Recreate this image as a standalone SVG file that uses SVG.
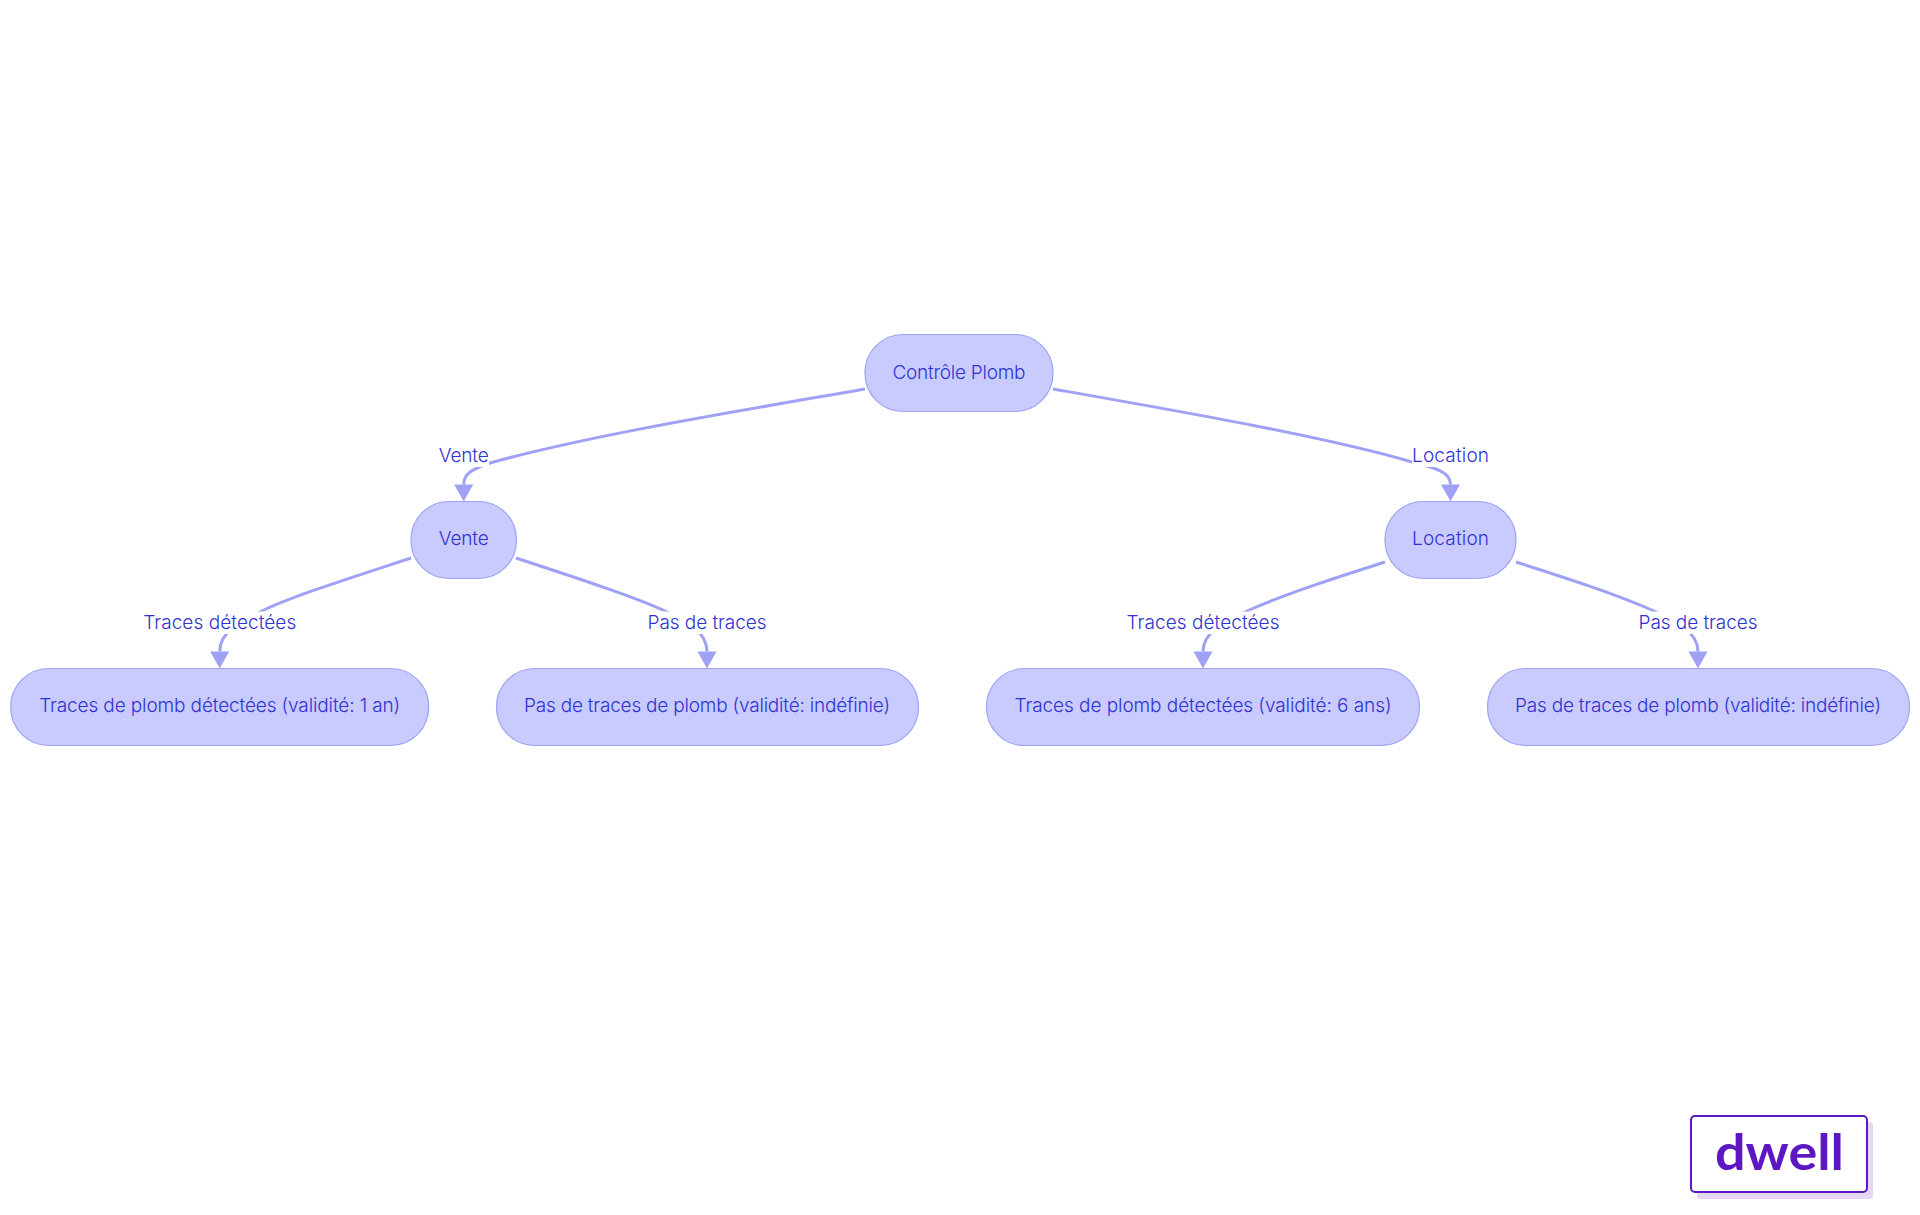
<svg xmlns="http://www.w3.org/2000/svg" width="1920" height="1215" viewBox="0 0 1920 1215">
<style>
.node rect{fill:#c9cbff;stroke:#9ea1f5;stroke-width:1.2}
.t{font-family:"Inter","Noto Sans","Liberation Sans",sans-serif;font-size:19px;font-weight:350;fill:#2f32d0;text-anchor:middle}
.e{fill:none;stroke:#9ea1f5;stroke-width:3}
.lb{fill:#fff}
</style>
<defs><marker id="ah" markerUnits="userSpaceOnUse" markerWidth="18" markerHeight="20" refX="0" refY="10" orient="auto" overflow="visible"><path d="M0 0.500L17 10L0 19.500Z" fill="#9ea1f5"/></marker></defs>
<rect width="1920" height="1215" fill="#fff"/>
<g id="connectors">
<path class="e" marker-end="url(#ah)" d="M865 389C745 410 590 435 490 463C472 469 463.700 474 463.700 484.500"/>
<path class="e" marker-end="url(#ah)" d="M1053 389C1178 411 1328 437 1412 462C1436 468 1450.500 472 1450.500 484.500"/>
<path class="e" marker-end="url(#ah)" d="M411 558C350 578 290 597 262 611C240 622 219.700 632 219.700 651.500"/>
<path class="e" marker-end="url(#ah)" d="M516 558C577 578 635 597 665 611C687 621 707 632 707 651.500"/>
<path class="e" marker-end="url(#ah)" d="M1385 562C1335 578 1285 594 1247 611C1225 621 1203 632 1203 651.500"/>
<path class="e" marker-end="url(#ah)" d="M1516 562C1566 578 1616 594 1654 611C1676 621 1698 632 1698 651.500"/>
</g>
<g id="edge-labels">
<rect class="lb" x="438" y="444" width="51" height="23"/><text class="t" x="463.700" y="462" textLength="50">Vente</text>
<rect class="lb" x="1412" y="444" width="77" height="23"/><text class="t" x="1450.500" y="462" textLength="77">Location</text>
<rect class="lb" x="143" y="611.500" width="154" height="22.500"/><text class="t" x="219.700" y="629" textLength="153">Traces détectées</text>
<rect class="lb" x="647" y="611.500" width="120" height="22.500"/><text class="t" x="707" y="629" textLength="119">Pas de traces</text>
<rect class="lb" x="1126" y="611.500" width="154" height="22.500"/><text class="t" x="1203" y="629" textLength="153">Traces détectées</text>
<rect class="lb" x="1638" y="611.500" width="120" height="22.500"/><text class="t" x="1698" y="629" textLength="119">Pas de traces</text>
</g>
<g id="n-root" class="node"><rect x="865" y="334.500" width="188" height="77" rx="38" ry="38"/><text class="t" x="959" y="378.500" textLength="133">Contrôle Plomb</text></g>
<g id="n-vente" class="node"><rect x="411" y="501.500" width="105.500" height="77" rx="38" ry="38"/><text class="t" x="463.700" y="545" textLength="50">Vente</text></g>
<g id="n-location" class="node"><rect x="1385" y="501.500" width="131" height="77" rx="38" ry="38"/><text class="t" x="1450.500" y="545" textLength="77">Location</text></g>
<g id="n-leaf1" class="node"><rect x="10.700" y="668.500" width="418" height="77" rx="38" ry="38"/><text class="t" x="219.700" y="712" textLength="361">Traces de plomb détectées (validité: 1 an)</text></g>
<g id="n-leaf2" class="node"><rect x="496.500" y="668.500" width="422" height="77" rx="38" ry="38"/><text class="t" x="707" y="712" textLength="366">Pas de traces de plomb (validité: indéfinie)</text></g>
<g id="n-leaf3" class="node"><rect x="986.500" y="668.500" width="433" height="77" rx="38" ry="38"/><text class="t" x="1203" y="712" textLength="377">Traces de plomb détectées (validité: 6 ans)</text></g>
<g id="n-leaf4" class="node"><rect x="1487.500" y="668.500" width="422" height="77" rx="38" ry="38"/><text class="t" x="1698" y="712" textLength="366">Pas de traces de plomb (validité: indéfinie)</text></g>
<g id="logo">
<rect x="1697" y="1122" width="176" height="77" rx="3" fill="#e6d7f7"/>
<rect x="1691" y="1116" width="176" height="76" rx="4" fill="#fff" stroke="#5d17c2" stroke-width="2"/>
<text x="1779.500" y="1170" font-family="Lato,'Noto Sans',sans-serif" font-weight="700" font-size="49" fill="#5d17c2" text-anchor="middle" textLength="129" lengthAdjust="spacingAndGlyphs">dwell</text>
</g>
</svg>
